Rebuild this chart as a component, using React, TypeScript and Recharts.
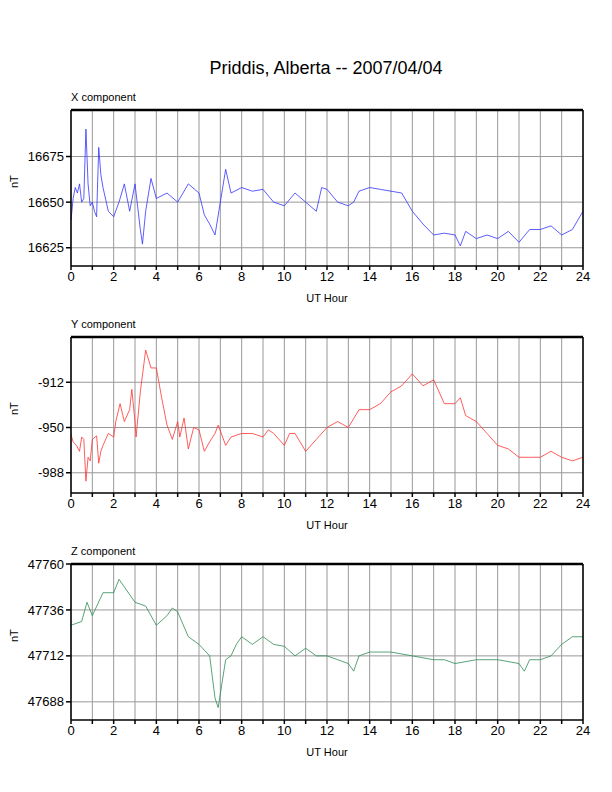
import React from 'react';
import { LineChart, Line, XAxis, YAxis, CartesianGrid, ReferenceLine } from 'recharts';

const xTime = [0,0.1,0.2,0.3,0.4,0.5,0.6,0.7,0.8,0.9,1.0,1.1,1.2,1.3,1.4,1.5,1.75,2.0,2.25,2.5,2.75,3.0,3.25,3.35,3.5,3.75,4.0,4.5,5.0,5.5,6.0,6.25,6.5,6.75,7.0,7.25,7.5,8,8.5,9,9.5,10,10.5,11,11.5,11.75,12,12.5,13,13.25,13.5,14,14.5,15,15.5,16,16.5,17,17.5,18,18.25,18.5,19,19.5,20,20.5,21,21.5,22,22.5,23,23.5,24];
const xVals = [16640,16652,16658,16655,16660,16650,16652,16690,16660,16648,16650,16645,16642,16680,16665,16658,16645,16642,16650,16660,16645,16660,16635,16627,16645,16663,16652,16655,16650,16660,16655,16643,16638,16632,16650,16668,16655,16658,16656,16657,16650,16648,16655,16650,16645,16658,16657,16650,16648,16650,16656,16658,16657,16656,16655,16645,16638,16632,16633,16632,16626,16634,16630,16632,16630,16634,16628,16635,16635,16637,16632,16635,16645];

const yTime = [0,0.1,0.25,0.4,0.5,0.6,0.7,0.8,0.9,1.0,1.2,1.3,1.4,1.5,1.75,2.0,2.1,2.3,2.5,2.75,2.85,3.0,3.05,3.25,3.5,3.75,4.0,4.25,4.5,4.75,5.0,5.1,5.3,5.5,5.75,6,6.25,6.5,6.75,6.9,7.25,7.5,8,8.5,9,9.25,9.5,10,10.25,10.5,11,11.5,12,12.5,13,13.5,14,14.5,15,15.5,16,16.5,17,17.5,18,18.25,18.5,19,19.5,20,20.5,21,21.5,22,22.5,23,23.5,24];
const yVals = [-956,-962,-965,-970,-958,-960,-995,-975,-978,-960,-957,-980,-970,-965,-955,-958,-945,-930,-945,-935,-918,-945,-958,-920,-885,-900,-900,-925,-948,-960,-945,-958,-942,-968,-950,-952,-970,-962,-955,-948,-965,-958,-955,-955,-958,-952,-955,-965,-955,-955,-970,-960,-950,-945,-950,-935,-935,-930,-920,-915,-905,-915,-910,-930,-930,-925,-940,-945,-955,-965,-968,-975,-975,-975,-970,-975,-978,-975];

const zTime = [0,0.5,0.75,1,1.5,2,2.25,2.5,3,3.5,4,4.5,4.75,5,5.5,6,6.5,6.75,6.9,7.25,7.5,7.75,8,8.5,9,9.5,10,10.5,11,11.5,12,12.5,13,13.25,13.5,14,15,16,17,17.5,18,19,20,21,21.25,21.5,22,22.5,23,23.5,24];
const zVals = [47728,47730,47740,47733,47745,47745,47752,47748,47740,47738,47728,47733,47737,47735,47722,47718,47712,47690,47685,47710,47712,47718,47722,47718,47722,47718,47717,47712,47716,47712,47712,47710,47708,47704,47712,47714,47714,47712,47710,47710,47708,47710,47710,47708,47704,47710,47710,47712,47718,47722,47722];

const hourTicks = Array.from({ length: 25 }, (_, i) => i);

const font = '"Liberation Sans", Arial, sans-serif';

function Panel({ top, title, times, vals, color, domain, ticks }: any) {
  const data = times.map((t: number, i: number) => ({ t, v: vals[i] }));
  return (
    <div style={{ position: 'absolute', left: 0, top }}>
      <div style={{ position: 'absolute', left: 71, top: 1, fontSize: 11, fontFamily: font }}>{title}</div>
      <LineChart width={612} height={220} data={data} margin={{ top: 20, right: 0, bottom: 0, left: 0 }}>
        <CartesianGrid stroke="#999" strokeWidth={1} verticalValues={hourTicks} horizontalValues={ticks} />
        <XAxis type="number" dataKey="t" domain={[0, 24]} ticks={hourTicks} interval={0} height={44}
          tickFormatter={(v: number) => (v % 2 === 0 ? String(v) : '')}
          tick={{ fill: '#000', fontSize: 13, fontFamily: font }} stroke="#000" strokeWidth={1.5} tickSize={4}
          label={{ value: 'UT Hour', position: 'insideBottom', offset: 8, fill: '#000', fontSize: 11, fontFamily: font }} />
        <YAxis type="number" domain={domain} ticks={ticks} allowDataOverflow
          tick={{ fill: '#000', fontSize: 13, fontFamily: font }} stroke="#000" strokeWidth={1.5} tickSize={5} width={71}
          label={{ value: 'nT', angle: -90, position: 'insideLeft', offset: 14, fill: '#000', fontSize: 11, fontFamily: font }} />
        <YAxis yAxisId="r" orientation="right" type="number" domain={domain} ticks={ticks} tick={false} stroke="#000" strokeWidth={1.5} tickSize={5} width={29} />
        <ReferenceLine y={domain[1]} stroke="#000" strokeWidth={2.5} />
        <Line dataKey="v" stroke={color} strokeWidth={0.8} dot={false} isAnimationActive={false} />
      </LineChart>
    </div>
  );
}

export default function App() {
  return (
    <div style={{ position: 'absolute', left: 0, top: 0, width: 612, height: 792, background: '#fff' }}>
      <div style={{ position: 'absolute', top: 58, width: 612, textAlign: 'center', fontSize: 18, fontFamily: font, paddingLeft: 40, boxSizing: 'border-box' }}>
        Priddis, Alberta -- 2007/04/04
      </div>
      <Panel top={90} title="X component" times={xTime} vals={xVals} color="#3333ff" domain={[16615, 16700.5]} ticks={[16625, 16650, 16675]} />
      <Panel top={317} title="Y component" times={yTime} vals={yVals} color="#ff3333" domain={[-1005, -874]} ticks={[-988, -950, -912]} />
      <Panel top={544} title="Z component" times={zTime} vals={zVals} color="#2e8b57" domain={[47678.5, 47760]} ticks={[47688, 47712, 47736, 47760]} />
    </div>
  );
}
